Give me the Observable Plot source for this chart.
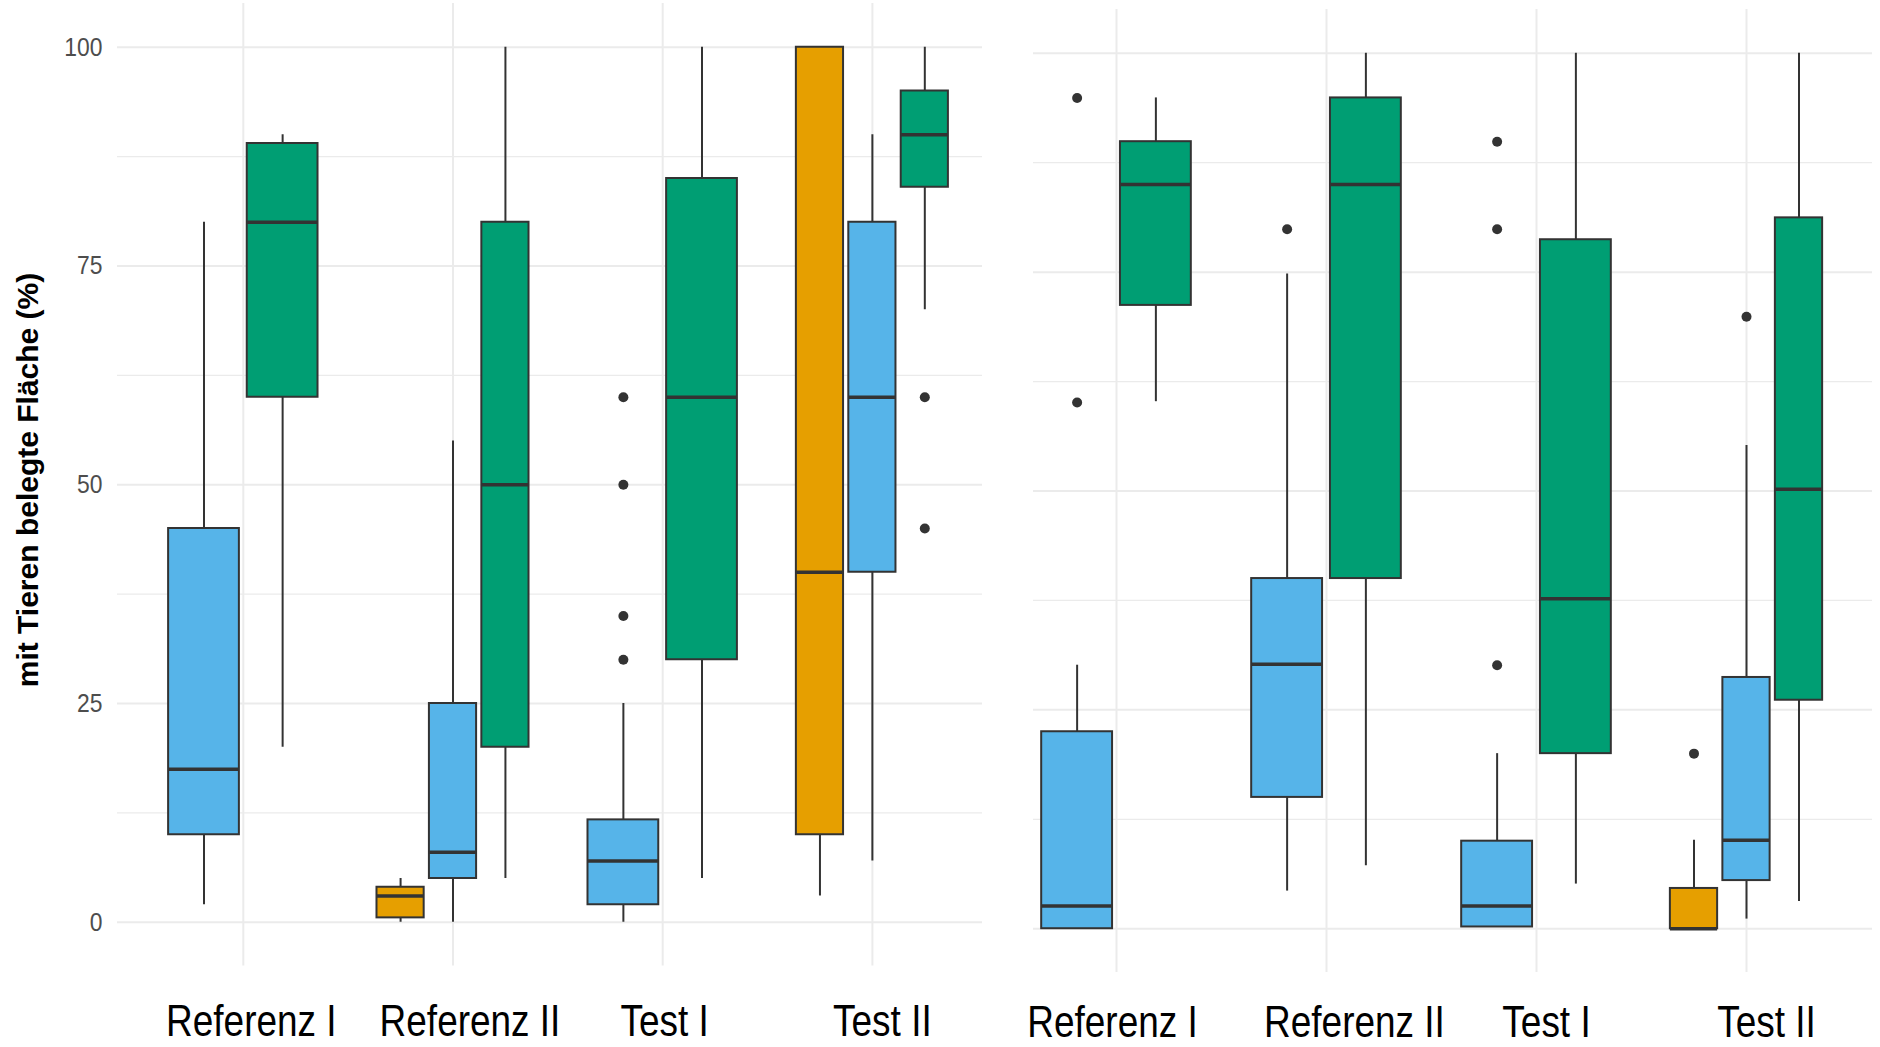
<!DOCTYPE html>
<html><head><meta charset="utf-8">
<script src="https://cdn.jsdelivr.net/npm/d3@7"></script>
<script src="https://cdn.jsdelivr.net/npm/@observablehq/plot@0.6"></script>
<style>
html,body{margin:0;padding:0;background:#fff;}
#root{position:relative;width:1880px;height:1047px;overflow:hidden;font-family:"Liberation Sans",Arial,sans-serif;background:#fff;}
#root svg{position:absolute;top:0;display:block;max-width:none;}
#ytitle{position:absolute;left:27.6px;top:480px;transform:translate(-50%,-50%) rotate(-90deg);font-weight:700;font-size:30px;white-space:nowrap;color:#000;line-height:1.15;}
</style></head><body>
<div id="root">
  <div id="ytitle"></div>
</div>
<script>
const categories = ["Referenz I", "Referenz II", "Test I", "Test II"];
const groups = ["Gruppe A", "Gruppe B", "Gruppe C"];
const groupColors = ["#E69F00", "#56B4E9", "#009E73"];
const yTicks = [0, 25, 50, 75, 100];
const yMinorTicks = [12.5, 37.5, 62.5, 87.5];
const yLabel = "mit Tieren belegte Fläche (%)";

// [category, group, whiskerLow, q1, median, q3, whiskerHigh]
const leftBoxes = [
  ["Referenz I", "Gruppe B", 2, 10, 17.5, 45, 80],
  ["Referenz I", "Gruppe C", 20, 60, 80, 89, 90],
  ["Referenz II", "Gruppe A", 0, 0.5, 3, 4, 5],
  ["Referenz II", "Gruppe B", 0, 5, 8, 25, 55],
  ["Referenz II", "Gruppe C", 5, 20, 50, 80, 100],
  ["Test I", "Gruppe B", 0, 2, 7, 11.7, 25],
  ["Test I", "Gruppe C", 5, 30, 60, 85, 100],
  ["Test II", "Gruppe A", 3, 10, 40, 100, 100],
  ["Test II", "Gruppe B", 7, 40, 60, 80, 90],
  ["Test II", "Gruppe C", 70, 84, 90, 95, 100]
];
// [category, group, value]
const leftOutliers = [
  ["Test I", "Gruppe B", 30], ["Test I", "Gruppe B", 35],
  ["Test I", "Gruppe B", 50], ["Test I", "Gruppe B", 60],
  ["Test II", "Gruppe C", 60], ["Test II", "Gruppe C", 45]
];
const rightBoxes = [
  ["Referenz I", "Gruppe B", 0, 0, 2.6, 22.5, 30.1],
  ["Referenz I", "Gruppe C", 60.2, 71.2, 85, 89.9, 94.9],
  ["Referenz II", "Gruppe B", 4.3, 15, 30.2, 40, 74.8],
  ["Referenz II", "Gruppe C", 7.2, 40, 85, 94.9, 100],
  ["Test I", "Gruppe B", 0.2, 0.2, 2.6, 10, 20],
  ["Test I", "Gruppe C", 5.1, 20, 37.7, 78.7, 100],
  ["Test II", "Gruppe A", 0, 0, 0, 4.6, 10.1],
  ["Test II", "Gruppe B", 1.1, 5.5, 10.1, 28.7, 55.2],
  ["Test II", "Gruppe C", 3.1, 26.1, 50.2, 81.2, 100]
];
const rightOutliers = [
  ["Referenz I", "Gruppe B", 94.9], ["Referenz I", "Gruppe B", 60.1],
  ["Referenz II", "Gruppe B", 79.9],
  ["Test I", "Gruppe B", 30.1], ["Test I", "Gruppe B", 79.9], ["Test I", "Gruppe B", 89.9],
  ["Test II", "Gruppe A", 20], ["Test II", "Gruppe B", 69.9]
];

document.getElementById("ytitle").textContent = yLabel;

// ggplot-like dodge2: boxes share 0.75 of a category, 10% padding
function layout(boxes) {
  const rows = boxes.map(([category, group, lo, q1, med, q3, hi]) => ({category, group, lo, q1, med, q3, hi}));
  for (const [cat, list] of d3.group(rows, d => d.category)) {
    list.sort((a, b) => groups.indexOf(a.group) - groups.indexOf(b.group));
    const n = list.length, slot = 0.75 / n, ci = categories.indexOf(cat);
    list.forEach((d, i) => {
      d.x = ci - 0.375 + (i + 0.5) * slot;
      d.x1 = d.x - slot * 0.45;
      d.x2 = d.x + slot * 0.45;
    });
  }
  return {rows, pos: new Map(rows.map(d => [d.category + "|" + d.group, d.x]))};
}

function panel({boxes, outliers, width, marginLeft, marginRight, marginTop, marginBottom, showY, tickPadding, gridFrom, gridTo}) {
  const {rows, pos} = layout(boxes);
  const outs = outliers.map(([c, g, v]) => ({x: pos.get(c + "|" + g), v}));
  const catIdx = categories.map((c, i) => i);
  const grid = {stroke: "#EBEBEB", strokeOpacity: 1, x1: gridFrom, x2: gridTo};
  return Plot.plot({
    width, height: 1047, marginLeft, marginRight, marginTop, marginBottom,
    style: {fontFamily: "'Liberation Sans', Arial, sans-serif", background: "transparent", overflow: "visible"},
    x: {domain: [-0.6, 3.6], axis: null},
    y: {domain: [-5, 105], axis: null},
    color: {domain: groups, range: groupColors},
    marks: [
      Plot.ruleY(yMinorTicks, {y: d => d, ...grid, strokeWidth: 1.2}),
      Plot.ruleY(yTicks, {y: d => d, ...grid, strokeWidth: 2}),
      Plot.gridX(catIdx, {stroke: "#EBEBEB", strokeOpacity: 1, strokeWidth: 2}),
      showY ? Plot.axisY(yTicks, {tickSize: 0, tickPadding: 15, fontSize: 26, color: "#4D4D4D", label: null}) : null,
      Plot.axisX(catIdx, {tickSize: 0, tickPadding, fontSize: 44, tickFormat: i => categories[i], color: "#000", label: null}),
      Plot.ruleX(rows, {x: "x", y1: "lo", y2: "q1", stroke: "#333333", strokeWidth: 2}),
      Plot.ruleX(rows, {x: "x", y1: "q3", y2: "hi", stroke: "#333333", strokeWidth: 2}),
      Plot.rect(rows, {x1: "x1", x2: "x2", y1: "q1", y2: "q3", fill: "group", stroke: "#333333", strokeWidth: 2}),
      Plot.ruleY(rows, {y: "med", x1: "x1", x2: "x2", stroke: "#333333", strokeWidth: 3.5}),
      Plot.dot(outs, {x: "x", y: "v", r: 5, fill: "#333333", stroke: null})
    ]
  });
}

const root = document.getElementById("root");
const leftSvg = panel({boxes: leftBoxes, outliers: leftOutliers, width: 1000, marginLeft: 117, marginRight: 2.3,
  marginTop: 3, marginBottom: 81.5, showY: true, tickPadding: 39, gridFrom: -0.6, gridTo: 3.525});
leftSvg.style.left = "0px";
root.appendChild(leftSvg);

const rightSvg = panel({boxes: rightBoxes, outliers: rightOutliers, width: 890, marginLeft: 0, marginRight: 8,
  marginTop: 9, marginBottom: 75, showY: false, tickPadding: 33, gridFrom: -0.395, gridTo: 3.6});
rightSvg.style.left = "990px";
root.appendChild(rightSvg);

// condense label glyphs horizontally like the reference, and nudge labels as placed in the reference
function condense(svg, selector, k, nudges) {
  svg.querySelectorAll(selector).forEach((t, i) => {
    const w = t.getComputedTextLength();
    if (w > 0) { t.setAttribute("textLength", w * k); t.setAttribute("lengthAdjust", "spacingAndGlyphs"); }
    if (nudges) t.setAttribute("transform", (t.getAttribute("transform") || "") + ` translate(${nudges[i] || 0},0)`);
  });
}
condense(leftSvg, 'g[aria-label="x-axis tick label"] text', 0.84, [8, 17, 2, 10]);
condense(rightSvg, 'g[aria-label="x-axis tick label"] text', 0.84, [-4, 28, 10, 20]);
condense(leftSvg, 'g[aria-label="y-axis tick label"] text', 0.88);
</script>
</body></html>
